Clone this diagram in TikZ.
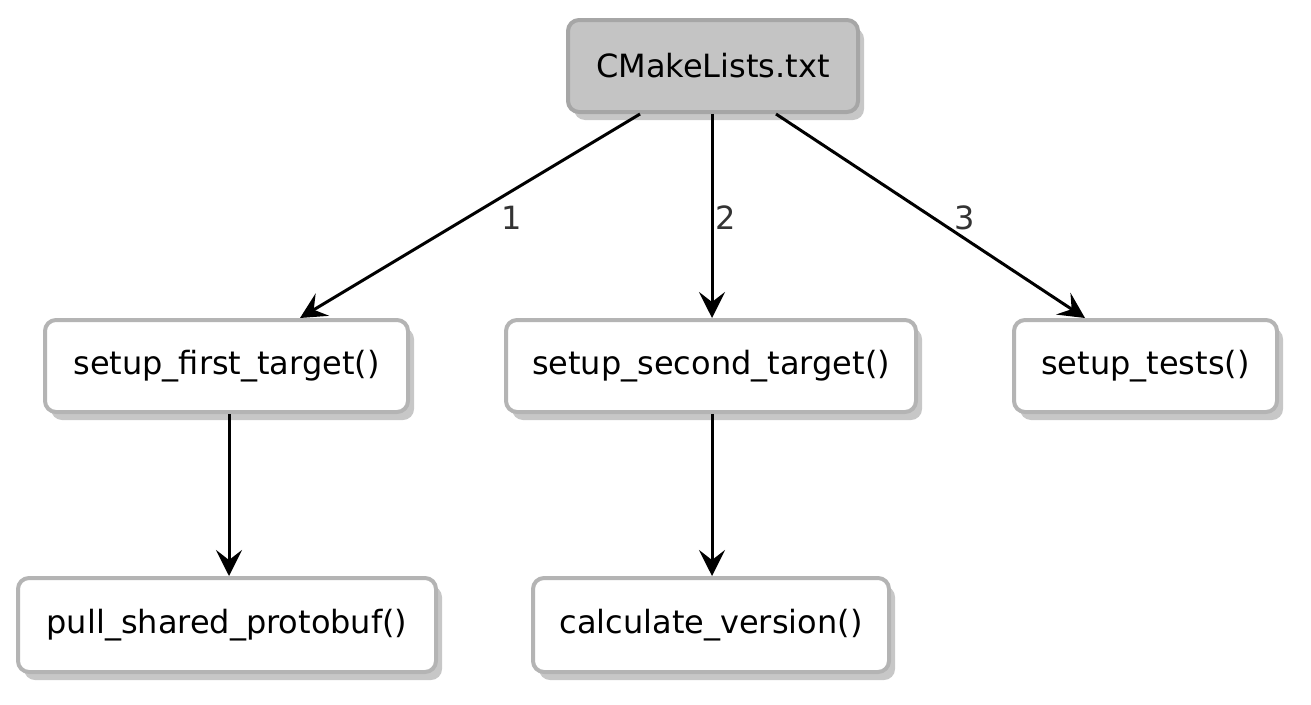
\documentclass[tikz,border=0pt]{standalone}
\usepackage{fontspec}
\setmainfont{DejaVu Sans}
\usetikzlibrary{arrows.meta,shadows}
\definecolor{boxline}{HTML}{B4B4B4}
\definecolor{topfill}{HTML}{C4C4C4}
\definecolor{topline}{HTML}{A6A6A6}
\definecolor{lbl}{HTML}{333333}
\begin{document}
\begin{tikzpicture}[x=1pt,y=1pt,
  box/.style={draw=boxline, line width=4pt, fill=white, rounded corners=11pt,
    minimum height=92pt, inner sep=0pt, font=\fontsize{32}{38}\selectfont,
    drop shadow={shadow xshift=6pt, shadow yshift=-8pt, fill=black, opacity=0.22}},
  topbox/.style={box, draw=topline, fill=topfill},
  conn/.style={line width=3pt, -{Stealth[length=26pt,width=26pt,inset=10pt]}},
  num/.style={text=lbl, font=\fontsize{32}{38}\selectfont}]
\useasboundingbox (0,0) rectangle (1311,-704);
\node[topbox, minimum width=290pt] (cm) at (713,-66) {CMakeLists.txt};
\node[box, minimum width=363pt] (first) at (226.5,-366) {setup\_first\_target()};
\node[box, minimum width=410pt] (second) at (711,-366) {setup\_second\_target()};
\node[box, minimum width=263pt] (tests) at (1145.5,-366) {setup\_tests()};
\node[box, minimum width=418pt, minimum height=94pt] (pull) at (227,-625) {pull\_shared\_protobuf()};
\node[box, minimum width=356pt, minimum height=94pt] (calc) at (711,-625) {calculate\_version()};
\draw[conn] ([xshift=-73pt]cm.south) -- ([xshift=73.5pt]first.north);
\draw[conn] ([xshift=-1pt]cm.south) -- ([xshift=1pt]second.north);
\draw[conn] ([xshift=63pt]cm.south) -- ([xshift=-60.5pt]tests.north);
\draw[conn] ([xshift=2.5pt]first.south) -- ([xshift=2pt]pull.north);
\draw[conn] ([xshift=1pt]second.south) -- ([xshift=1pt]calc.north);
\node[num] (n1) at (512,-218) {1};
\node[num] (n2) at (726,-218) {2};
\node[num] (n3) at (965,-218) {3};
\end{tikzpicture}
\end{document}
